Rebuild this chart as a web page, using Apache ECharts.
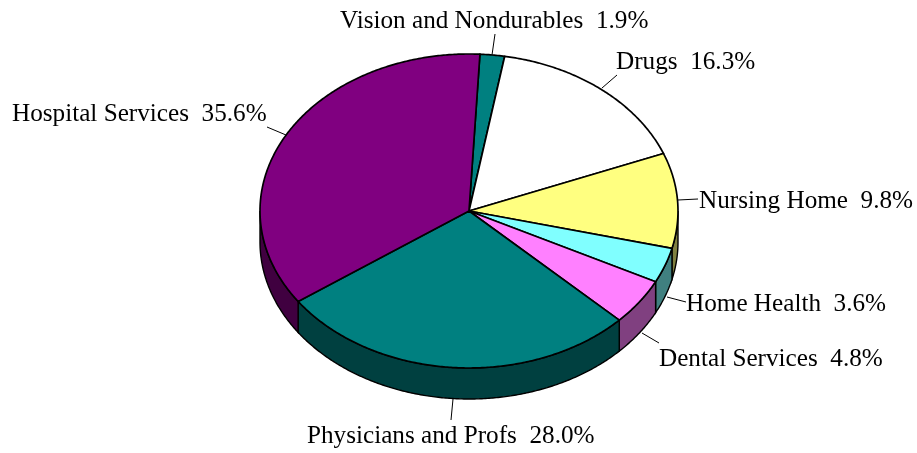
<!DOCTYPE html>
<html>
<head>
<meta charset="utf-8">
<title>Health expenditure shares</title>
<script src="https://cdn.jsdelivr.net/npm/echarts@6/dist/echarts.min.js"></script>
<style>
html, body { margin: 0; padding: 0; background: #fff; }
#main { width: 917px; height: 453px; }
</style>
</head>
<body>
<div id="main"></div>
<script>
// clockwise from the top of the pie
var categories = ['Vision and Nondurables', 'Drugs', 'Nursing Home', 'Home Health', 'Dental Services', 'Physicians and Profs', 'Hospital Services'];
var shares = [1.9, 16.3, 9.8, 3.6, 4.8, 28.0, 35.6];

var topColors = ['#008080', '#ffffff', '#ffff80', '#80ffff', '#ff80ff', '#008080', '#800080'];
var sideColors = ['#004040', '#808080', '#808040', '#408080', '#804080', '#004040', '#400040'];

// label text position [x, middle y], leader line [x1, y1, x2, y2]
var labelPos = [[340, 21], [616, 62], [699, 201], [686, 304], [659, 359], [307, 436], [12, 114]];
var leaders = [
    [492, 55, 495, 34],
    [602, 88, 617, 75],
    [678, 200, 698, 199],
    [667, 297, 686, 302],
    [642, 333, 659, 343],
    [453, 399, 451, 420],
    [267, 127, 286, 135]
];

var cx = 469, cy = 211, rx = 209, ry = 157, depth = 31;
var startAngle = 3;

var total = shares.reduce(function (a, b) { return a + b; }, 0);
var ranges = [];
var acc = startAngle;
shares.forEach(function (v) {
    var next = acc + v / total * 360;
    ranges.push([acc, next]);
    acc = next;
});

function rimPoint(deg, dy) {
    var t = deg * Math.PI / 180;
    return [cx + rx * Math.sin(t), cy - ry * Math.cos(t) + (dy || 0)];
}

function arc(from, to, dy) {
    var pts = [];
    var n = Math.max(2, Math.ceil(Math.abs(to - from) * 2));
    for (var i = 0; i <= n; i++) {
        pts.push(rimPoint(from + (to - from) * i / n, dy));
    }
    return pts;
}

// only the part of the rim between 90 and 270 degrees faces the viewer
function renderSide(params, api) {
    var i = api.value(0);
    var from = Math.max(ranges[i][0], 90), to = Math.min(ranges[i][1], 270);
    if (to <= from) return { type: 'group', children: [] };
    return {
        type: 'polygon',
        shape: { points: arc(from, to, 0).concat(arc(to, from, depth)) },
        style: { fill: sideColors[i], stroke: '#000', lineWidth: 1.4 }
    };
}

function renderTop(params, api) {
    var i = api.value(0);
    return {
        type: 'polygon',
        shape: { points: [[cx, cy]].concat(arc(ranges[i][0], ranges[i][1], 0)) },
        style: { fill: topColors[i], stroke: '#000', lineWidth: 1.7, lineJoin: 'round' }
    };
}

function renderLabel(params, api) {
    var i = api.value(0);
    var l = leaders[i];
    return {
        type: 'group',
        children: [{
            type: 'line',
            shape: { x1: l[0], y1: l[1], x2: l[2], y2: l[3] },
            style: { stroke: '#000', lineWidth: 1 }
        }, {
            type: 'text',
            style: {
                x: labelPos[i][0],
                y: labelPos[i][1],
                text: categories[i] + '  ' + shares[i].toFixed(1) + '%',
                fill: '#000',
                font: '25.2px "Liberation Serif"',
                textAlign: 'left',
                textVerticalAlign: 'middle'
            }
        }]
    };
}

var indexes = categories.map(function (c, i) { return [i]; });

var chart = echarts.init(document.getElementById('main'), null, { renderer: 'canvas' });
chart.setOption({
    backgroundColor: '#fff',
    animation: false,
    tooltip: { show: false },
    series: [
        { type: 'custom', coordinateSystem: 'none', silent: true, renderItem: renderSide, data: indexes },
        { type: 'custom', coordinateSystem: 'none', silent: true, renderItem: renderTop, data: indexes },
        { type: 'custom', coordinateSystem: 'none', silent: true, renderItem: renderLabel, data: indexes }
    ]
});
</script>
</body>
</html>
